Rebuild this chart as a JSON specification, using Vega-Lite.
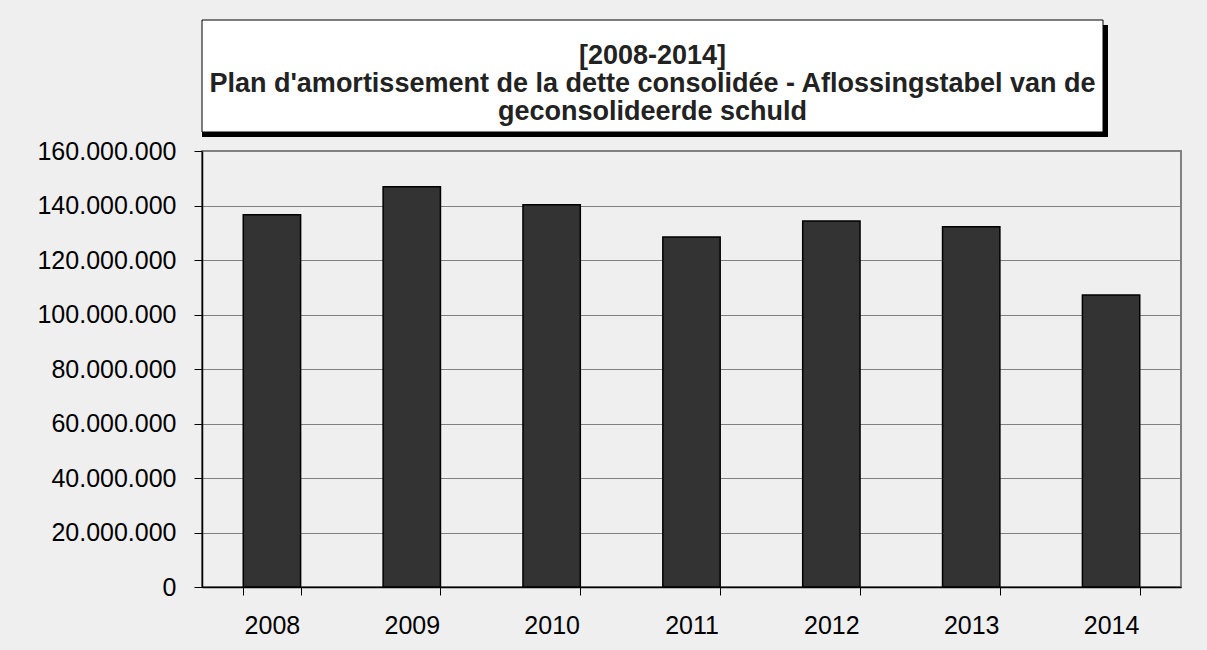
{
  "$schema": "https://vega.github.io/schema/vega-lite/v6.json",
  "background": "#efefef",
  "padding": {"left": 8, "top": 19, "right": 27, "bottom": 14},
  "bounds": "flush",
  "spacing": 19,
  "config": {
    "font": "Liberation Sans",
    "locale": {"number": {"decimal": ",", "thousands": ".", "grouping": [3], "currency": ["", " €"]}}
  },
  "vconcat": [
    {
      "width": 901,
      "height": 112,
      "view": {"stroke": null},
      "data": {"values": [
        {"line": 1, "text": "[2008-2014]"},
        {"line": 2, "text": "Plan d'amortissement de la dette consolidée - Aflossingstabel van de"},
        {"line": 3, "text": "geconsolideerde schuld"}
      ]},
      "layer": [
        {
          "transform": [{"filter": "datum.line == 1"}],
          "mark": {"type": "rect", "fill": "black", "xOffset": 5, "yOffset": 5, "y2": {"expr": "concat_0_height + 5"}},
          "encoding": {}
        },
        {
          "transform": [{"filter": "datum.line == 1"}],
          "mark": {"type": "rect", "fill": "white", "stroke": "black", "strokeWidth": 1},
          "encoding": {}
        },
        {
          "mark": {"type": "text", "font": "Liberation Sans", "fontWeight": "bold", "fontSize": 27, "color": "#222222", "baseline": "alphabetic", "dy": 16},
          "encoding": {
            "y": {"field": "line", "type": "ordinal", "axis": null, "scale": {"type": "point", "padding": 1.05}},
            "text": {"field": "text"}
          }
        }
      ]
    },
    {
      "width": 979,
      "height": 436,
      "view": {"stroke": "#808080", "strokeWidth": 2},
      "data": {"values": [
        {"year": "2008", "amount": 136600000},
        {"year": "2009", "amount": 146900000},
        {"year": "2010", "amount": 140300000},
        {"year": "2011", "amount": 128400000},
        {"year": "2012", "amount": 134300000},
        {"year": "2013", "amount": 132200000},
        {"year": "2014", "amount": 107200000}
      ]},
      "mark": {"type": "bar", "fill": "#333333", "stroke": "black", "strokeWidth": 1.5},
      "encoding": {
        "x": {
          "field": "year", "type": "nominal",
          "scale": {"paddingInner": 0.59, "paddingOuter": 0.295},
          "axis": {"title": null, "labelAngle": 0, "tickBand": "extent", "grid": false, "ticks": true, "tickSize": 8, "tickColor": "black", "domainColor": "black", "domainWidth": 1.5, "labelFontSize": 25, "labelColor": "black", "labelPadding": 18, "labelFont": "Liberation Sans"}
        },
        "y": {
          "field": "amount", "type": "quantitative",
          "scale": {"domain": [0, 160000000], "nice": false},
          "axis": {"title": null, "values": [0, 20000000, 40000000, 60000000, 80000000, 100000000, 120000000, 140000000, 160000000], "format": ",d", "grid": true, "gridColor": "#808080", "gridWidth": 1.2, "gridOpacity": 1, "tickSize": 8, "tickColor": "black", "domainColor": "black", "domainWidth": 1.5, "labelFontSize": 25, "labelColor": "black", "labelPadding": 18, "labelFont": "Liberation Sans", "minExtent": 193, "maxExtent": 193}
        }
      }
    }
  ]
}
